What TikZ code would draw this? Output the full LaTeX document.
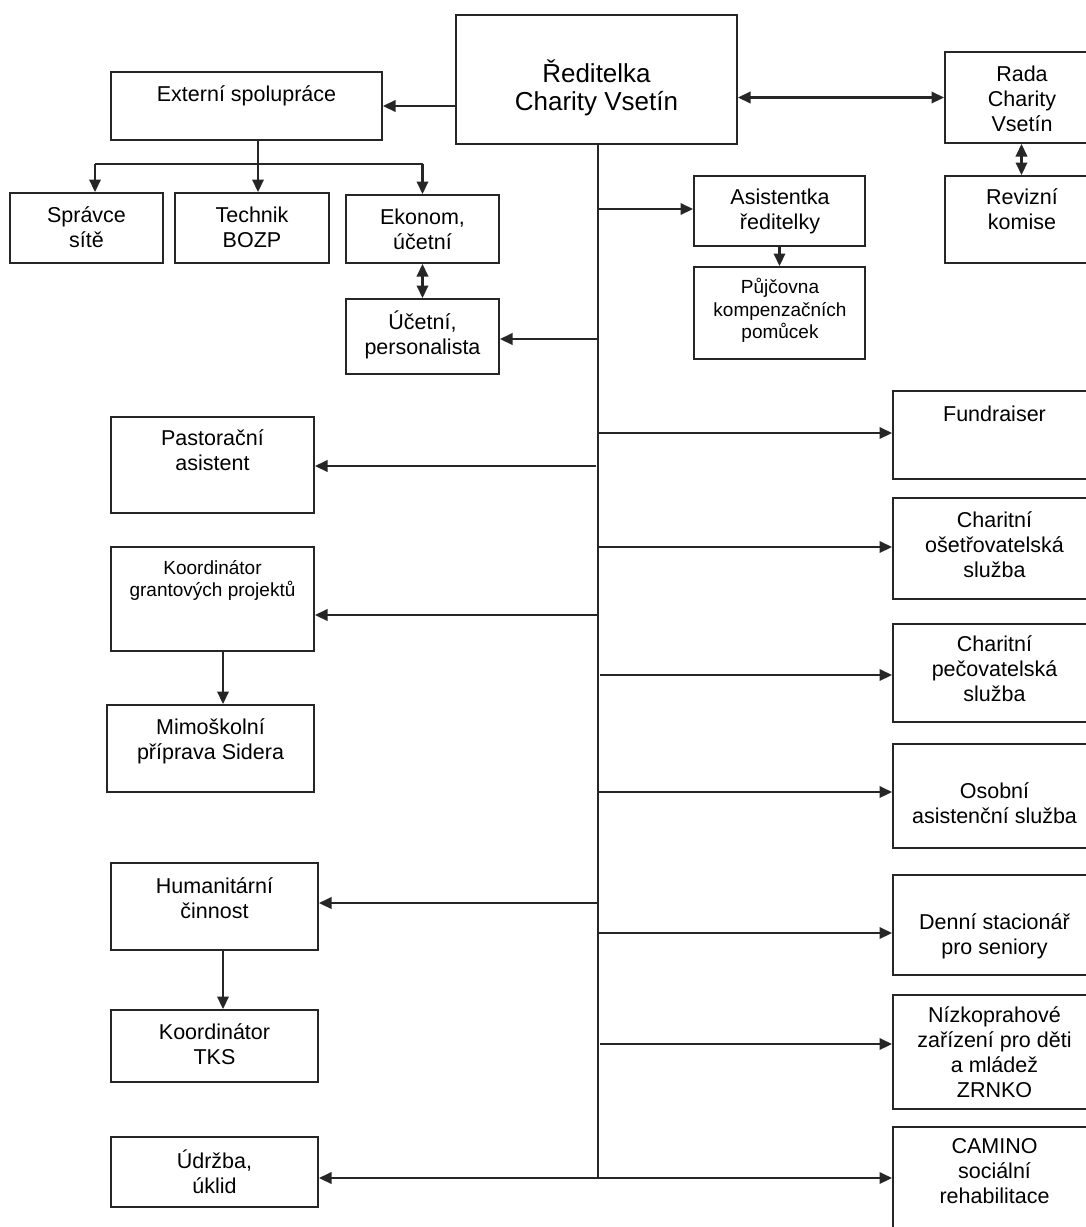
\documentclass[tikz,border=0pt]{standalone}
\usepackage{fontspec}
\setmainfont{Liberation Sans}
\usetikzlibrary{arrows.meta,fit}
\definecolor{ln}{HTML}{262626}
\begin{document}
\begin{tikzpicture}[x=1pt,y=1pt,
  box/.style={draw=ln, line width=2pt, inner sep=0pt, rectangle},
  txt/.style={align=center, inner sep=0pt, text=black, font=\fontsize{21.5}{25}\selectfont,
              execute at begin node=\strut, execute at end node=\strut},
  big/.style={font=\fontsize{26}{28.5}\selectfont},
  small/.style={font=\fontsize{19}{22.5}\selectfont},
  conn/.style={draw=ln, line width=2.1pt},
  arr/.style={conn, -{Triangle[length=12.5pt,width=11.5pt]}},
  darr/.style={conn, {Triangle[length=12.5pt,width=11.5pt]}-{Triangle[length=12.5pt,width=11.5pt]}}]
\useasboundingbox (0,0) rectangle (1086,-1227);
\clip (0,0) rectangle (1086,-1227);

% boxes
\node[box, fit={(456,-15)(737,-144)}] (dir) {};
\node[txt,big] (dirT) at (596.5,-89.5) {Ředitelka\\Charity Vsetín};
\node[box, fit={(111,-72)(382,-140)}] (ext) {};
\node[txt] (extT) at (246.5,-96) {Externí spolupráce};
\node[box, fit={(945,-52)(1098,-143)}] (rada) {};
\node[txt] (radaT) at (1022,-102) {Rada\\Charity\\Vsetín};
\node[box, fit={(945,-176)(1098,-263)}] (rev) {};
\node[txt] (revT) at (1022,-212.5) {Revizní\\komise};
\node[box, fit={(694,-176)(865,-246)}] (asis) {};
\node[txt] (asisT) at (780,-212.5) {Asistentka\\ředitelky};
\node[box, fit={(694,-267)(865,-359)}] (pujc) {};
\node[txt,small] (pujcT) at (780,-312) {Půjčovna\\kompenzačních\\pomůcek};
\node[box, fit={(10,-193)(163,-263)}] (spr) {};
\node[txt] (sprT) at (86.5,-230.5) {Správce\\sítě};
\node[box, fit={(175,-193)(329,-263)}] (tech) {};
\node[txt] (techT) at (252,-230.5) {Technik\\BOZP};
\node[box, fit={(346,-195)(499,-263)}] (ekon) {};
\node[txt] (ekonT) at (422.5,-233) {Ekonom,\\účetní};
\node[box, fit={(346,-299)(499,-374)}] (ucet) {};
\node[txt] (ucetT) at (422.5,-336.5) {Účetní,\\personalista};
\node[box, fit={(111,-417)(314,-513)}] (past) {};
\node[txt] (pastT) at (212.5,-454) {Pastorační\\asistent};
\node[box, fit={(111,-547)(314,-651)}] (koord) {};
\node[txt,small] (koordT) at (212.5,-582) {Koordinátor\\grantových projektů};
\node[box, fit={(107,-705)(314,-792)}] (mimo) {};
\node[txt] (mimoT) at (210.5,-742.5) {Mimoškolní\\příprava Sidera};
\node[box, fit={(111,-863)(318,-950)}] (hum) {};
\node[txt] (humT) at (214.5,-901.5) {Humanitární\\činnost};
\node[box, fit={(111,-1010)(318,-1082)}] (tks) {};
\node[txt] (tksT) at (214.5,-1047.5) {Koordinátor\\TKS};
\node[box, fit={(111,-1137)(318,-1207)}] (udr) {};
\node[txt] (udrT) at (214.5,-1175.5) {Údržba,\\úklid};
\node[box, fit={(893,-391)(1096,-479)}] (fund) {};
\node[txt] (fundT) at (994.5,-416) {Fundraiser};
\node[box, fit={(893,-498)(1096,-599)}] (oset) {};
\node[txt] (osetT) at (994.5,-548) {Charitní\\ošetřovatelská\\služba};
\node[box, fit={(893,-624)(1096,-722)}] (pec) {};
\node[txt] (pecT) at (994.5,-672) {Charitní\\pečovatelská\\služba};
\node[box, fit={(893,-744)(1096,-848)}] (osob) {};
\node[txt] (osobT) at (994.5,-807) {Osobní\\asistenční služba};
\node[box, fit={(893,-875)(1096,-975)}] (den) {};
\node[txt] (denT) at (994.5,-938) {Denní stacionář\\pro seniory};
\node[box, fit={(893,-995)(1096,-1109)}] (niz) {};
\node[txt] (nizT) at (994.5,-1055.5) {Nízkoprahové\\zařízení pro děti\\a mládež\\ZRNKO};
\node[box, fit={(893,-1127)(1096,-1245)}] (cam) {};
\node[txt] (camT) at (994.5,-1175) {CAMINO\\sociální\\rehabilitace};

% coordinates
\coordinate (tb) at (598,-1178);
\coordinate (hL) at (95,-164);
\coordinate (hM) at (258,-164);
\coordinate (hR) at (422.5,-164);
\coordinate (bAs) at (598,-209);
\coordinate (bUc) at (598,-339);
\coordinate (bFu) at (598,-433);
\coordinate (bPa) at (596,-466);
\coordinate (bOs) at (598,-547);
\coordinate (bKo) at (598,-615);
\coordinate (bPe) at (600,-675);
\coordinate (bOb) at (598,-792);
\coordinate (bHu) at (598,-903);
\coordinate (bDe) at (598,-933);
\coordinate (bNi) at (600,-1044);
\coordinate (vK) at (223,-651);
\coordinate (vH) at (223,-950);

% connectors
\draw[arr] (dir.west |- ext.east) -- (ext.east);
\draw[darr] (dir.east |- rada.west) -- (rada.west);
\draw[darr] (rada.south) -- (rev.north);
\draw[conn] (ext.south -| hM) -- (hM);
\draw[conn] (hL) -- (hR);
\draw[arr] (hL) -- (spr.north -| hL);
\draw[arr] (hM) -- (tech.north -| hM);
\draw[arr] (hR) -- (ekon.north -| hR);
\draw[darr] (ekon.south) -- (ucet.north);
\draw[arr] (asis.south -| pujc.north) -- (pujc.north);
\draw[conn] (dir.south -| tb) -- (tb);
\draw[arr] (bAs) -- (bAs -| asis.west);
\draw[arr] (bUc) -- (bUc -| ucet.east);
\draw[arr] (bFu) -- (bFu -| fund.west);
\draw[arr] (bPa) -- (bPa -| past.east);
\draw[arr] (bOs) -- (bOs -| oset.west);
\draw[arr] (bKo) -- (bKo -| koord.east);
\draw[arr] (bPe) -- (bPe -| pec.west);
\draw[arr] (bOb) -- (bOb -| osob.west);
\draw[arr] (bHu) -- (bHu -| hum.east);
\draw[arr] (bDe) -- (bDe -| den.west);
\draw[arr] (bNi) -- (bNi -| niz.west);
\draw[arr] (tb) -- (tb -| udr.east);
\draw[arr] (tb) -- (tb -| cam.west);
\draw[arr] (vK) -- (vK |- mimo.north);
\draw[arr] (vH) -- (vH |- tks.north);
\end{tikzpicture}
\end{document}
